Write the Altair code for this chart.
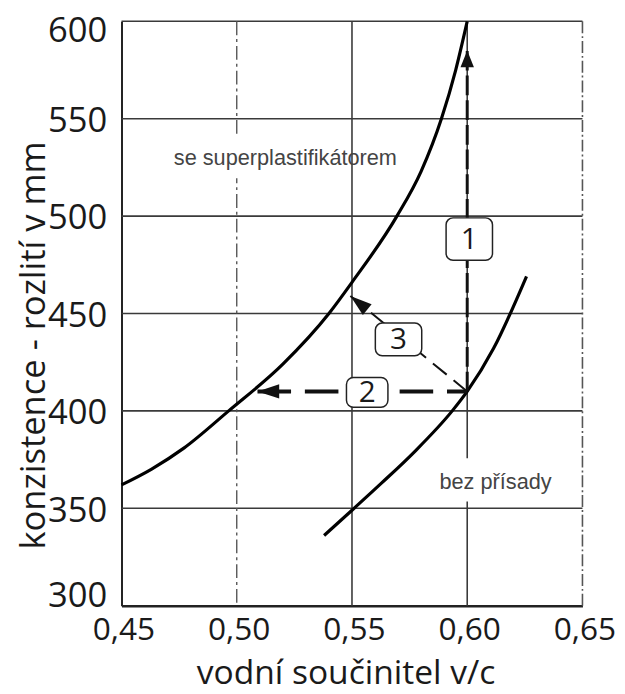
import altair as alt
import pandas as pd

# --- data ---
sp_x = [0.45, 0.4629, 0.4772, 0.4965, 0.52, 0.54, 0.55, 0.5695, 0.58, 0.5888, 0.595, 0.60]
sp_y = [362, 370, 381, 400, 424, 450, 466, 500, 523, 550, 575, 600]
bp_x = [0.5379, 0.55, 0.5629, 0.5771, 0.5935, 0.60, 0.6114, 0.6257]
bp_y = [336, 349, 363, 379, 400, 410, 432, 469]

x_ticks = [0.45, 0.50, 0.55, 0.60, 0.65]
y_ticks = [300, 350, 400, 450, 500, 550, 600]
h_grid = [350, 400, 450, 500, 550, 600]
v_grid_solid = [0.55, 0.60]
v_grid_dashdot = [0.50]
v_border = [0.65]

# arrows: start (x, y) -> tip (x, y)
arrow1_x = [0.60, 0.60]
arrow1_y = [410, 585]
arrow2_x = [0.60, 0.509]
arrow2_y = [410, 410]
arrow3_x = [0.60, 0.5493]
arrow3_y = [410, 459]

box_labels = ["1", "2", "3"]
box_x = [0.6009, 0.5566, 0.5702]
box_y = [488.2, 409.5, 436.7]

curve_labels = ["se superplastifikátorem", "bez přísady"]
curve_label_x = [0.5211, 0.6123]
curve_label_y = [526, 360]

xs = alt.Scale(domain=[0.45, 0.65], nice=False, zero=False)
ys = alt.Scale(domain=[300, 600], nice=False, zero=False)

xaxis = alt.Axis(
    values=x_ticks, title="vodní součinitel v/c", grid=False, ticks=False, tickSize=0,
    labelExpr="replace(format(datum.value, '.2f'), '.', ',')",
    labelFont="Open Sans", labelFontSize=32, labelColor="#1a1a1a",
    labelBaseline="alphabetic", labelPadding=34, labelOffset=2, labelFlush=False,
    titleFont="Open Sans", titleFontSize=34, titleFontWeight="normal", titleColor="#1a1a1a",
    titleX=227, titleY=79, titleBaseline="alphabetic", titleAlign="center",
    domainColor="#222", domainWidth=2.5,
)
yaxis = alt.Axis(
    values=y_ticks, title="konzistence - rozlití v mm", grid=False, ticks=False, tickSize=0,
    labelFont="Open Sans", labelFontSize=35, labelColor="#1a1a1a",
    labelPadding=15, labelFlush=False, labelBaseline="middle",
    labelOffset={"condition": [
        {"test": "datum.value == 600", "value": 9},
        {"test": "datum.value == 300", "value": -10},
    ], "value": 2},
    titleFont="Open Sans", titleFontSize=35, titleFontWeight="normal", titleColor="#1a1a1a",
    titleAngle=270, titleX=-78, titleY=328, titleBaseline="alphabetic", titleAlign="center",
    domainColor="#222", domainWidth=2,
)


def X(f):
    return alt.X(f, scale=xs, axis=xaxis)


def Y(f):
    return alt.Y(f, scale=ys, axis=yaxis)


curves = pd.DataFrame(
    {"x": sp_x + bp_x, "y": sp_y + bp_y,
     "s": ["sp"] * len(sp_x) + ["bp"] * len(bp_x)}
)

GRID = "#3a3a3a"

curve_layer = alt.Chart(curves).mark_line(
    color="black", strokeWidth=3.2, interpolate="monotone"
).encode(x=X("x:Q"), y=Y("y:Q"), detail="s:N")

hgrid = alt.Chart(pd.DataFrame({"v": h_grid})).mark_rule(
    color=GRID, strokeWidth=1.6
).encode(y=Y("v:Q"))

vgrid = alt.Chart(pd.DataFrame({"v": v_grid_solid})).mark_rule(
    color=GRID, strokeWidth=1.6
).encode(x=X("v:Q"))

vgrid_dd = alt.Chart(pd.DataFrame({"v": v_grid_dashdot})).mark_rule(
    color="#555", strokeWidth=1.4, strokeDash=[14, 4, 3, 4]
).encode(x=X("v:Q"))

vborder = alt.Chart(pd.DataFrame({"v": v_border})).mark_rule(
    color="#555", strokeWidth=1.6, strokeDash=[12, 3, 2, 3]
).encode(x=X("v:Q"))

lab_df = pd.DataFrame({"x": curve_label_x, "y": curve_label_y, "t": curve_labels})
label_bg = alt.Chart(lab_df).mark_rect(
    width=116, height=44, fill="white", yOffset=-9
).encode(x=X("x:Q"), y=Y("y:Q"))
labels = alt.Chart(lab_df).mark_text(
    font="Liberation Sans", fontSize=22, color="#444", baseline="alphabetic", align="center"
).encode(x=X("x:Q"), y=Y("y:Q"), text="t:N")


def arrow_line(xv, yv, width, dash):
    df = pd.DataFrame({"x": xv, "y": yv})
    return alt.Chart(df).mark_line(color="#111", strokeWidth=width, strokeDash=dash).encode(
        x=X("x:Q"), y=Y("y:Q")
    )


def arrow_head(xv, yv, angle, length, half):
    df = pd.DataFrame({"x": [xv[-1]], "y": [yv[-1]]})
    path = f"M0,0L{half},1L-{half},1Z"
    return alt.Chart(df).mark_point(
        shape=path, filled=True, color="#111", opacity=1, strokeWidth=0,
        size=(2 * length) ** 2, angle=angle
    ).encode(x=X("x:Q"), y=Y("y:Q"))


a1 = arrow_line(arrow1_x, arrow1_y, 3, [20, 5])
a2 = arrow_line(arrow2_x, arrow2_y, 4, [34, 14])
a3 = arrow_line(arrow3_x, arrow3_y, 2, [18, 9])
h1 = arrow_head(arrow1_x, arrow1_y, 0, 17, 0.4)
h2 = arrow_head(arrow2_x, arrow2_y, 270, 22, 0.33)
h3 = arrow_head(arrow3_x, arrow3_y, 309, 22, 0.32)

box_sizes = [(47, 43), (42, 30), (47, 33)]
boxes = []
for i, (w, h) in enumerate(box_sizes):
    df = pd.DataFrame({"x": [box_x[i]], "y": [box_y[i]], "t": [box_labels[i]]})
    boxes.append(alt.Chart(df).mark_rect(
        width=w, height=h, cornerRadius=7, fill="white", stroke="#222", strokeWidth=1.5
    ).encode(x=X("x:Q"), y=Y("y:Q")))
    boxes.append(alt.Chart(df).mark_text(
        font="Open Sans", fontSize=30, color="#1a1a1a", baseline="middle", align="center", dy=1
    ).encode(x=X("x:Q"), y=Y("y:Q"), text="t:N"))

chart = alt.layer(
    hgrid, vgrid, vgrid_dd, vborder, label_bg, curve_layer,
    a1, a2, a3, h1, h2, h3, *boxes, labels
).properties(
    width=467, height=592,
    autosize=alt.AutoSizeParams(type="none"),
    padding={"left": 115, "top": 9, "right": 35, "bottom": 85},
).configure_view(stroke=None)

chart.save("out.html", embed_options={"renderer": "svg", "actions": False})
